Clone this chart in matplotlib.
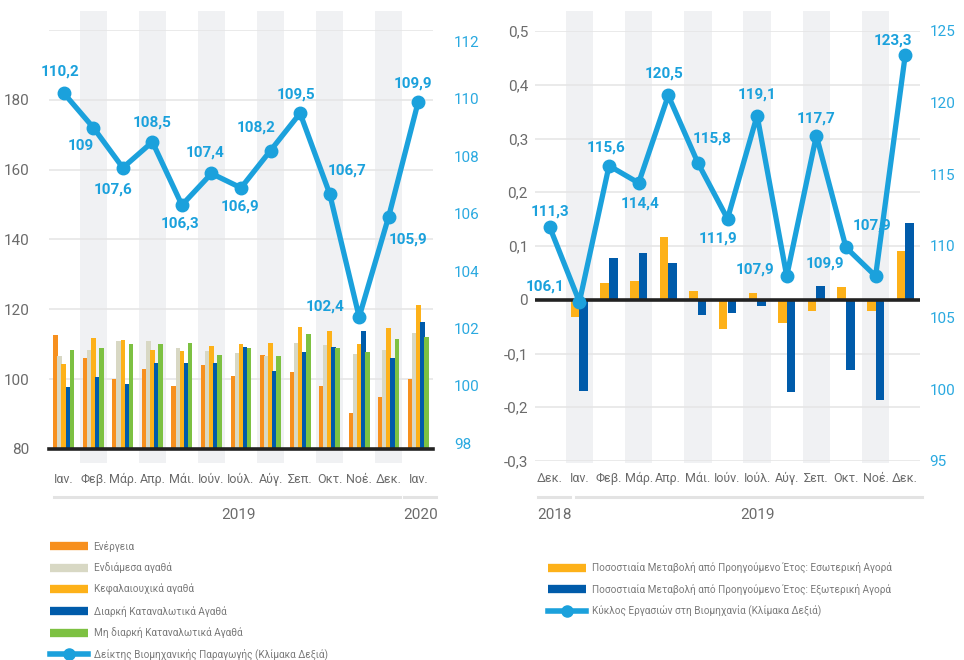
import numpy as np
import matplotlib.pyplot as plt
from matplotlib.lines import Line2D
from matplotlib.patches import Rectangle

plt.rcParams['font.family'] = ['Roboto', 'DejaVu Sans']

# ---- αριστερό διάγραμμα: βιομηχανική παραγωγή ----
mines_aristera = ['Ιαν.', 'Φεβ.', 'Μάρ.', 'Απρ.', 'Μάι.', 'Ιούν.', 'Ιούλ.', 'Αύγ.', 'Σεπ.', 'Οκτ.', 'Νοέ.', 'Δεκ.', 'Ιαν.']
energeia = [112.7, 106.1, 100.1, 102.9, 98.1, 104.1, 100.9, 106.9, 102.1, 98.1, 90.3, 94.9, 100.1]
endiamesa = [106.6, 108.4, 110.9, 110.9, 108.9, 108.1, 107.5, 106.6, 110.4, 109.8, 107.2, 108.4, 113.2]
kefalaiouxika = [104.4, 111.8, 111.2, 108.4, 108.1, 109.5, 110.1, 110.4, 115.0, 113.8, 110.1, 114.7, 121.3]
diarkh = [97.8, 100.6, 98.6, 104.6, 104.6, 104.6, 109.2, 102.3, 107.8, 109.2, 113.8, 106.1, 116.4]
mh_diarkh = [108.4, 108.9, 110.1, 110.1, 110.4, 106.9, 108.9, 106.6, 113.0, 108.9, 107.8, 111.5, 112.1]
deiktis = [110.2, 109.0, 107.6, 108.5, 106.3, 107.4, 106.9, 108.2, 109.5, 106.7, 102.4, 105.9, 109.9]

# ---- δεξί διάγραμμα: κύκλος εργασιών ----
mines_dexia = ['Δεκ.', 'Ιαν.', 'Φεβ.', 'Μάρ.', 'Απρ.', 'Μάι.', 'Ιούν.', 'Ιούλ.', 'Αύγ.', 'Σεπ.', 'Οκτ.', 'Νοέ.', 'Δεκ.']
esoteriki = [np.nan, -0.033, 0.032, 0.035, 0.117, 0.017, -0.055, 0.013, -0.044, -0.020, 0.024, -0.020, 0.091]
exoteriki = [np.nan, -0.169, 0.078, 0.087, 0.069, -0.029, -0.024, -0.011, -0.171, 0.026, -0.130, -0.186, 0.143]
kyklos = [111.3, 106.1, 115.6, 114.4, 120.5, 115.8, 111.9, 119.1, 107.9, 117.7, 109.9, 107.9, 123.3]

# χρώματα
PORTOKALI = '#F7901E'
BEZ = '#D8D8C4'
KITRINO = '#FDB119'
MPLE = '#005BAA'
PRASINO = '#7DC142'
GALAZIO = '#1BA1DC'
GKRI_TXT = '#6b6b6b'
LORIDA = '#F0F1F3'


def morfi(v):
    if float(v).is_integer():
        return str(int(v))
    return f'{v:.1f}'.replace('.', ',')


def lorides(ax, n, kato, ypsos):
    # γκρι κάθετες λωρίδες κάθε δεύτερο μήνα
    for i in range(1, n, 2):
        ax.add_patch(Rectangle((i - 0.46, kato), 0.92, ypsos, transform=ax.get_xaxis_transform(),
                               facecolor=LORIDA, edgecolor='none', clip_on=False, zorder=0))


fig = plt.figure(figsize=(9.64, 6.6), dpi=100)

# ===================== αριστερό =====================
ax1 = fig.add_axes([49 / 964, 211 / 660, 384 / 964, 419 / 660])
x1 = np.arange(len(mines_aristera))
lorides(ax1, len(x1), -0.033, 1.078)

seires = [energeia, endiamesa, kefalaiouxika, diarkh, mh_diarkh]
xromata = [PORTOKALI, BEZ, KITRINO, MPLE, PRASINO]
for k, (s, c) in enumerate(zip(seires, xromata)):
    ax1.bar(x1 + (k - 2) * 0.138, np.array(s) - 80, bottom=80, width=0.155, color=c, zorder=2)

ax1.set_xlim(-0.5, 12.5)
ax1.set_ylim(80, 200)
ax1.set_yticks(range(80, 201, 20))
ax1.set_yticklabels([str(t) if t < 200 else '' for t in range(80, 201, 20)])
ax1.set_xticks(x1)
ax1.set_xticklabels(mines_aristera)
ax1.tick_params(axis='y', length=0, pad=14, labelsize=11, labelcolor=GKRI_TXT)
ax1.tick_params(axis='x', length=0, pad=17, labelsize=9, labelcolor=GKRI_TXT)
ax1.grid(axis='y', color='#e6e6e6', lw=1.2)
ax1.set_axisbelow(True)
for sp in ax1.spines.values():
    sp.set_visible(False)
ax1.axhline(80, color='#222222', lw=2.6, zorder=3, clip_on=False)

ax1b = ax1.twinx()
ax1b.plot(x1, deiktis, color=GALAZIO, lw=3.8, marker='o', ms=9, zorder=5)
ax1b.set_ylim(97.8, 112.4)
ax1b.set_yticks(range(98, 113, 2))
ax1b.tick_params(axis='y', length=0, pad=15, labelsize=11, labelcolor='#2aa9e0')
for sp in ax1b.spines.values():
    sp.set_visible(False)

theseis1 = [(-4, 22), (-13, -18), (-10, -22), (0, 19), (-2, -19), (-6, 21), (-1, -19),
            (-14, 23), (-4, 19), (17, 23), (-34, 10), (19, -23), (-5, 18)]
for xi, v, (dx, dy) in zip(x1, deiktis, theseis1):
    ax1b.annotate(morfi(v), (xi, v), xytext=(dx, dy), textcoords='offset pixels',
                  ha='center', va='center', color=GALAZIO, fontsize=11, fontweight='bold', zorder=6)

# έτη κάτω από τους μήνες
tr1 = ax1.get_xaxis_transform()
ax1.plot([-0.34, 11.39], [-0.115, -0.115], transform=tr1, color='#e3e3e3', lw=2.2, clip_on=False)
ax1.plot([11.53, 12.6], [-0.115, -0.115], transform=tr1, color='#e3e3e3', lw=2.2, clip_on=False)
ax1.text(5.9, -0.158, '2019', transform=tr1, ha='center', va='center', fontsize=11, color=GKRI_TXT)
ax1.text(12.07, -0.158, '2020', transform=tr1, ha='center', va='center', fontsize=11, color=GKRI_TXT)

# ===================== δεξί =====================
ax2 = fig.add_axes([535 / 964, 199 / 660, 385 / 964, 430 / 660])
x2 = np.arange(len(mines_dexia))
lorides(ax2, len(x2), -0.005, 1.052)

ax2.bar(x2 - 0.145, esoteriki, width=0.29, color=KITRINO, zorder=2)
ax2.bar(x2 + 0.145, exoteriki, width=0.29, color=MPLE, zorder=2)

ax2.set_xlim(-0.5, 12.5)
ax2.set_ylim(-0.3, 0.5)
tikakia = np.round(np.arange(-0.3, 0.51, 0.1), 1)
ax2.set_yticks(tikakia)
ax2.set_yticklabels([('0' if t == 0 else f'{t:.1f}'.replace('.', ',')) for t in tikakia])
ax2.set_xticks(x2)
ax2.set_xticklabels(mines_dexia)
ax2.tick_params(axis='y', length=0, pad=5, labelsize=11, labelcolor=GKRI_TXT)
ax2.tick_params(axis='x', length=0, pad=8, labelsize=9, labelcolor=GKRI_TXT)
ax2.grid(axis='y', color='#e6e6e6', lw=1.2)
ax2.set_axisbelow(True)
for sp in ax2.spines.values():
    sp.set_visible(False)
ax2.axhline(0, color='#222222', lw=2.6, zorder=3)

ax2b = ax2.twinx()
ax2b.plot(x2, kyklos, color=GALAZIO, lw=3.8, marker='o', ms=9, zorder=5)
ax2b.set_ylim(95, 125)
ax2b.set_yticks(range(95, 126, 5))
ax2b.tick_params(axis='y', length=0, pad=7, labelsize=11, labelcolor='#2aa9e0')
for sp in ax2b.spines.values():
    sp.set_visible(False)

theseis2 = [(0, 16), (-34, 15), (-3, 18), (1, -21), (-4, 22), (14, 24), (-9, -20),
            (0, 21), (-32, 7), (0, 17), (-21, -16), (-4, 51), (-12, 15)]
for xi, v, (dx, dy) in zip(x2, kyklos, theseis2):
    ax2b.annotate(morfi(v), (xi, v), xytext=(dx, dy), textcoords='offset pixels',
                  ha='center', va='center', color=GALAZIO, fontsize=11, fontweight='bold', zorder=6)

tr2 = ax2.get_xaxis_transform()
ax2.plot([-0.41, 0.68], [-0.084, -0.084], transform=tr2, color='#e3e3e3', lw=2.2, clip_on=False)
ax2.plot([0.88, 12.57], [-0.084, -0.084], transform=tr2, color='#e3e3e3', lw=2.2, clip_on=False)
ax2.text(0.17, -0.126, '2018', transform=tr2, ha='center', va='center', fontsize=11, color=GKRI_TXT)
ax2.text(7.0, -0.126, '2019', transform=tr2, ha='center', va='center', fontsize=11, color=GKRI_TXT)

# ===================== υπομνήματα =====================
lab_aristera = ['Ενέργεια', 'Ενδιάμεσα αγαθά', 'Κεφαλαιουχικά αγαθά', 'Διαρκή Καταναλωτικά Αγαθά',
                'Μη διαρκή Καταναλωτικά Αγαθά', 'Δείκτης Βιομηχανικής Παραγωγής (Κλίμακα Δεξιά)']
lab_dexia = ['Ποσοστιαία Μεταβολή από Προηγούμενο Έτος: Εσωτερική Αγορά',
             'Ποσοστιαία Μεταβολή από Προηγούμενο Έτος: Εξωτερική Αγορά',
             'Κύκλος Εργασιών στη Βιομηχανία (Κλίμακα Δεξιά)']

lab_aristera_h = [Line2D([], [], color=c, lw=6, solid_capstyle='butt') for c in xromata]
lab_aristera_h.append(Line2D([], [], color=GALAZIO, lw=4, marker='o', ms=8))
lab_dexia_h = [Line2D([], [], color=KITRINO, lw=6, solid_capstyle='butt'),
               Line2D([], [], color=MPLE, lw=6, solid_capstyle='butt'),
               Line2D([], [], color=GALAZIO, lw=4, marker='o', ms=8)]

leg1 = fig.legend(lab_aristera_h, lab_aristera, loc='upper left', bbox_to_anchor=(50 / 964, 1 - 541 / 660),
                  frameon=False, fontsize=7.2, handlelength=3.8, handletextpad=0.55, labelspacing=1.05,
                  borderpad=0, borderaxespad=0, labelcolor='#7a7a7a')
leg2 = fig.legend(lab_dexia_h, lab_dexia, loc='upper left', bbox_to_anchor=(548 / 964, 1 - 562 / 660),
                  frameon=False, fontsize=7.2, handlelength=3.8, handletextpad=0.55, labelspacing=1.05,
                  borderpad=0, borderaxespad=0, labelcolor='#7a7a7a')

plt.savefig('out.png', dpi=100)
